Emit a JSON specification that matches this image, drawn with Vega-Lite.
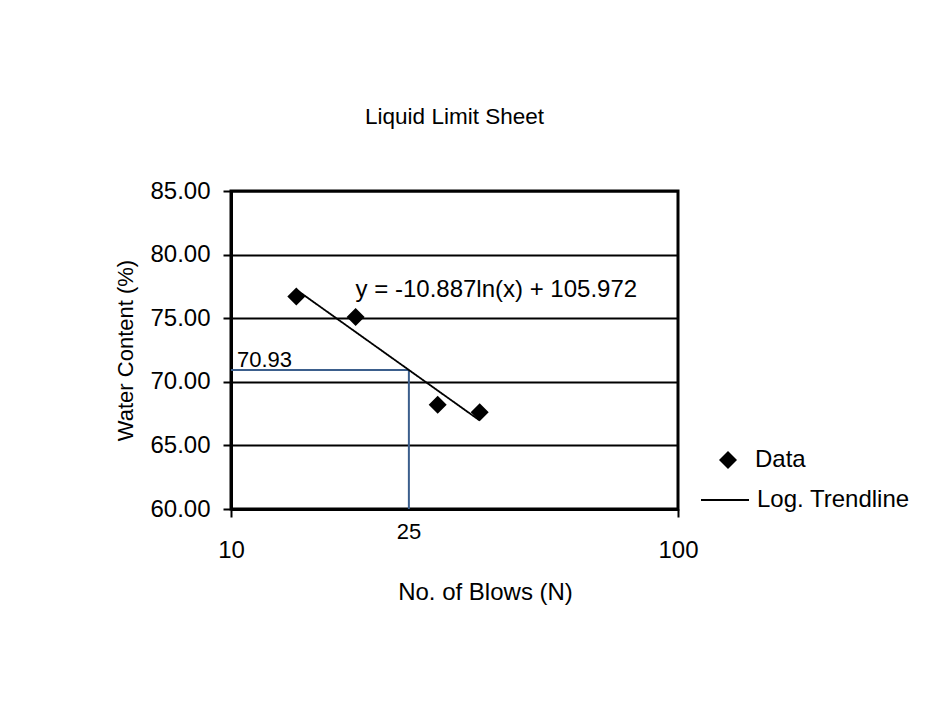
{
  "$schema": "https://vega.github.io/schema/vega-lite/v6.json",
  "autosize": "none",
  "width": 447,
  "height": 318,
  "padding": {"left": 231, "top": 191, "right": 267, "bottom": 216},
  "background": "white",
  "config": {
    "font": "Liberation Sans",
    "view": {"stroke": "black", "strokeWidth": 3},
    "axis": {"labelFont": "Liberation Sans", "titleFont": "Liberation Sans", "labelColor": "black", "titleColor": "black", "titleFontWeight": "normal"},
    "legend": {"labelFont": "Liberation Sans", "labelColor": "black", "labelFontSize": 24, "padding": 0}
  },
  "title": {"text": "Liquid Limit Sheet", "fontSize": 22.5, "fontWeight": "normal", "color": "black", "anchor": "middle", "offset": 51, "font": "Liberation Sans"},
  "datasets": {
    "points": [
      {"N": 14, "wc": 76.7, "series": "Data"},
      {"N": 19, "wc": 75.1, "series": "Data"},
      {"N": 29, "wc": 68.2, "series": "Data"},
      {"N": 36, "wc": 67.6, "series": "Data"}
    ],
    "trend": [
      {"N": 14, "wc": 77.24, "series": "Log. Trendline"},
      {"N": 36, "wc": 66.96, "series": "Log. Trendline"}
    ],
    "guides": [
      {"x": 10, "x2": 25, "y": 70.93, "y2": 70.93},
      {"x": 25, "x2": 25, "y": 60, "y2": 70.93}
    ],
    "labels": [
      {"x": 19.0, "y": 77.2, "label": "y = -10.887ln(x) + 105.972", "kind": "eq"},
      {"x": 10, "y": 70.93, "label": "70.93", "kind": "ll"},
      {"x": 25, "y": 60, "label": "25", "kind": "n"}
    ]
  },
  "layer": [
    {
      "data": {"name": "guides"},
      "mark": {"type": "rule", "color": "#3b5e8c", "strokeWidth": 2},
      "encoding": {
        "x": {"field": "x", "type": "quantitative", "scale": {"type": "log", "domain": [10, 100]},
          "axis": {"values": [10, 100], "format": "d", "title": "No. of Blows (N)", "grid": false, "labelFontSize": 24, "titleFontSize": 24, "tickColor": "black", "tickSize": 8, "tickWidth": 2, "labelPadding": 21, "domainColor": "black", "domainWidth": 3, "titleX": 254, "titleY": 83, "titleAlign": "center", "titleBaseline": "middle", "labelFlush": false}},
        "x2": {"field": "x2"},
        "y": {"field": "y", "type": "quantitative", "scale": {"domain": [60, 85], "nice": false, "zero": false},
          "axis": {"values": [60, 65, 70, 75, 80, 85], "format": ".2f", "title": "Water Content (%)", "grid": true, "gridColor": "black", "gridWidth": 2, "gridOpacity": 1, "labelFontSize": 24, "titleFontSize": 22, "tickColor": "black", "tickSize": 8, "tickWidth": 2, "labelPadding": 13, "domainColor": "black", "domainWidth": 3, "titleX": -106, "titleY": 159, "titleAngle": -90, "titleAlign": "center", "titleBaseline": "middle", "labelFlush": false}},
        "y2": {"field": "y2"}
      }
    },
    {
      "data": {"name": "trend"},
      "mark": {"type": "line", "color": "black", "strokeWidth": 1.8},
      "encoding": {
        "x": {"field": "N", "type": "quantitative"},
        "y": {"field": "wc", "type": "quantitative"},
        "strokeDash": {"field": "series", "type": "nominal", "scale": {"domain": ["Log. Trendline"], "range": [[1, 0]]},
          "legend": {"title": null, "orient": "none", "legendX": 469, "legendY": 284, "symbolType": "stroke", "symbolSize": 2304, "symbolStrokeColor": "black", "symbolStrokeWidth": 2, "labelOffset": 7}}
      }
    },
    {
      "data": {"name": "points"},
      "mark": {"type": "point", "filled": true, "color": "black", "opacity": 1, "size": 324},
      "encoding": {
        "x": {"field": "N", "type": "quantitative"},
        "y": {"field": "wc", "type": "quantitative"},
        "shape": {"field": "series", "type": "nominal", "scale": {"domain": ["Data"], "range": ["diamond"]},
          "legend": {"title": null, "orient": "none", "legendX": 485, "legendY": 257, "symbolSize": 324, "symbolFillColor": "black", "symbolStrokeColor": "black", "labelOffset": 15}}
      }
    },
    {
      "data": {"name": "labels"},
      "transform": [{"filter": "datum.kind == 'eq'"}],
      "mark": {"type": "text", "align": "left", "baseline": "middle", "fontSize": 24, "color": "black"},
      "encoding": {
        "x": {"field": "x", "type": "quantitative"},
        "y": {"field": "y", "type": "quantitative"},
        "text": {"field": "label"}
      }
    },
    {
      "data": {"name": "labels"},
      "transform": [{"filter": "datum.kind == 'll'"}],
      "mark": {"type": "text", "align": "left", "baseline": "alphabetic", "dx": 6, "dy": -3, "fontSize": 22, "color": "black"},
      "encoding": {
        "x": {"field": "x", "type": "quantitative"},
        "y": {"field": "y", "type": "quantitative"},
        "text": {"field": "label"}
      }
    },
    {
      "data": {"name": "labels"},
      "transform": [{"filter": "datum.kind == 'n'"}],
      "mark": {"type": "text", "align": "center", "baseline": "middle", "dy": 23, "fontSize": 22, "color": "black"},
      "encoding": {
        "x": {"field": "x", "type": "quantitative"},
        "y": {"field": "y", "type": "quantitative"},
        "text": {"field": "label"}
      }
    }
  ]
}
